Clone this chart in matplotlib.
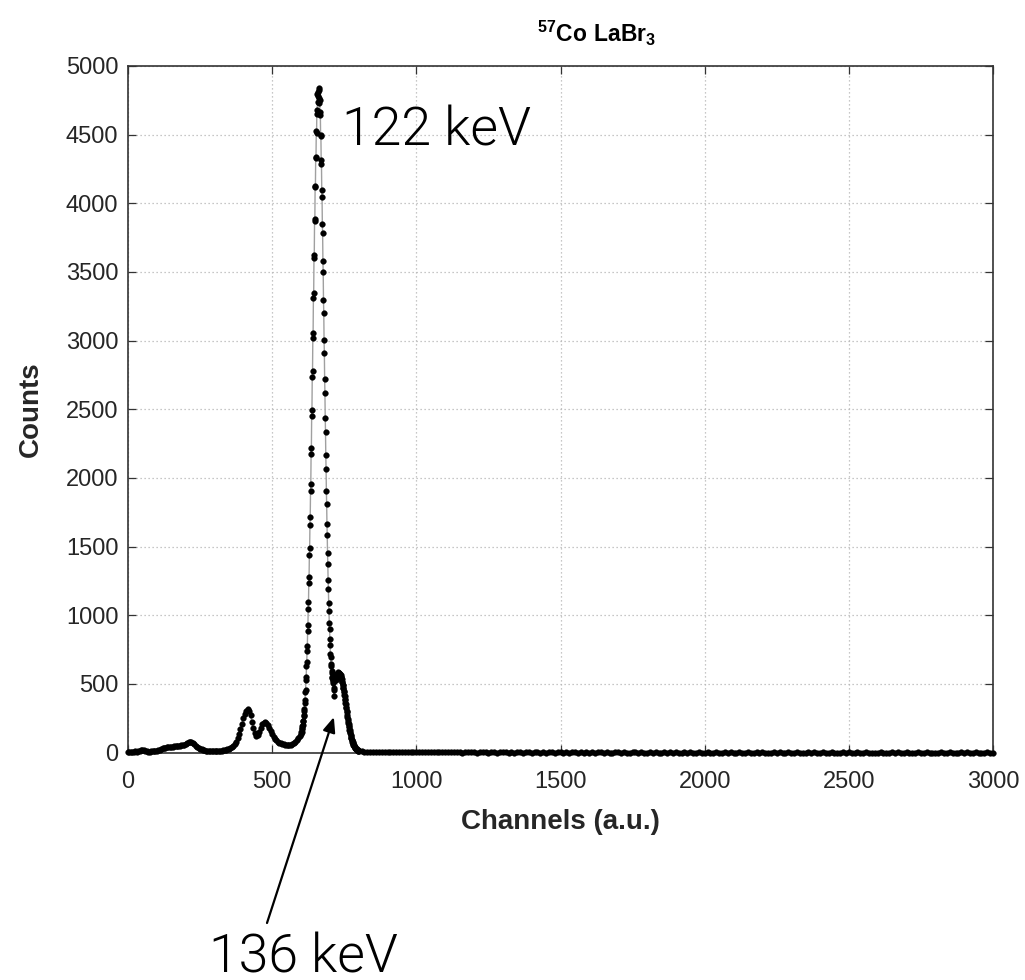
import os
import numpy as np
import matplotlib
matplotlib.use("Agg")
import matplotlib.pyplot as plt
from matplotlib import font_manager as fm

# ---------------------------------------------------------------------------
# 57Co spectrum measured with a LaBr3 detector
# ---------------------------------------------------------------------------
# channels 0..595, step 5
low_counts = [
    5, 6, 4, 7, 6, 8, 7, 10, 14, 18,
    21, 17, 12, 8, 6, 7, 9, 10, 11, 12,
    14, 17, 21, 26, 30, 33, 36, 38, 40, 41,
    42, 43, 44, 46, 47, 49, 50, 52, 54, 58,
    63, 69, 75, 78, 76, 70, 60, 50, 41, 33,
    27, 22, 19, 16, 14, 13, 12, 12, 12, 11,
    12, 12, 12, 12, 13, 14, 15, 17, 19, 22,
    26, 32, 40, 50, 62, 80, 105, 135, 170, 210,
    248, 280, 305, 318, 305, 272, 222, 178, 140, 122,
    128, 150, 180, 205, 218, 224, 218, 202, 178, 155,
    134, 115, 100, 88, 79, 72, 67, 63, 60, 58,
    56, 55, 56, 58, 62, 68, 77, 88, 103, 120,
]

# channels 600..799, step 1 (122 keV and 136 keV lines)
peak_counts = [
    138, 152, 150, 171, 175, 196, 199, 228, 233, 266,
    274, 305, 318, 362, 381, 437, 455, 526, 549, 631,
    660, 742, 778, 884, 925, 1047, 1094, 1231, 1281, 1437,
    1490, 1655, 1712, 1902, 1958, 2171, 2219, 2450, 2497, 2735,
    2781, 3018, 3058, 3311, 3346, 3598, 3621, 3870, 3883, 4121,
    4129, 4337, 4331, 4528, 4509, 4681, 4652, 4793, 4741, 4812,
    4784, 4842, 4767, 4826, 4730, 4756, 4641, 4662, 4497, 4491,
    4318, 4286, 4098, 4047, 3851, 3782, 3580, 3499, 3294, 3202,
    3001, 2911, 2722, 2617, 2436, 2333, 2164, 2063, 1905, 1811,
    1667, 1581, 1451, 1374, 1257, 1191, 1090, 1033, 946, 901,
    828, 781, 720, 695, 645, 627, 590, 579, 551, 546,
    524, 528, 505, 455, 410, 470, 520, 545, 531, 560,
    548, 556, 531, 562, 545, 571, 556, 578, 564, 583,
    569, 580, 570, 579, 566, 574, 558, 566, 547, 552,
    533, 536, 514, 516, 493, 492, 470, 467, 445, 440,
    418, 411, 390, 382, 361, 353, 331, 323, 302, 294,
    273, 261, 241, 233, 215, 207, 190, 183, 167, 161,
    146, 140, 126, 121, 109, 104, 93, 89, 80, 75,
    67, 64, 57, 54, 47, 45, 40, 38, 33, 31,
    28, 26, 24, 22, 20, 18, 16, 15, 13, 12,
]

# channels 800..3000, step 10
tail_counts = [
    11, 8, 6, 5, 4, 4, 3, 3, 3, 2,
    3, 2, 2, 3, 2, 1, 2, 2, 1, 2,
    1, 2, 1, 1, 2, 1, 1, 2, 1, 1,
    1, 1, 2, 1, 1, 1, 0, 1, 1, 2,
    1, 0, 1, 1, 1, 0, 1, 1, 0, 1,
    1, 1, 0, 1, 0, 1, 1, 0, 1, 1,
    0, 1, 1, 0, 1, 0, 1, 1, 0, 1,
    1, 0, 1, 0, 1, 1, 0, 1, 0, 1,
    0, 1, 0, 1, 1, 0, 1, 0, 0, 1,
    1, 0, 1, 0, 0, 1, 1, 0, 1, 0,
    0, 1, 0, 1, 0, 0, 1, 0, 1, 0,
    1, 0, 0, 1, 0, 1, 0, 0, 1, 0,
    0, 1, 0, 0, 1, 0, 0, 1, 0, 1,
    0, 0, 1, 0, 0, 1, 0, 0, 1, 0,
    1, 0, 0, 0, 1, 0, 1, 0, 0, 1,
    0, 0, 1, 0, 0, 0, 1, 0, 1, 0,
    0, 1, 0, 0, 1, 0, 0, 0, 1, 0,
    1, 0, 0, 1, 0, 0, 1, 0, 0, 0,
    0, 1, 0, 0, 0, 1, 0, 1, 0, 0,
    1, 0, 0, 0, 1, 0, 0, 1, 0, 0,
    0, 0, 1, 0, 0, 1, 0, 0, 0, 1,
    0, 1, 0, 0, 1, 0, 0, 0, 1, 0,
    0,
]

x_ticks = [0, 500, 1000, 1500, 2000, 2500, 3000]
y_ticks = [0, 500, 1000, 1500, 2000, 2500, 3000, 3500, 4000, 4500, 5000]

channels = np.concatenate([
    5 * np.arange(len(low_counts)),
    600 + np.arange(len(peak_counts)),
    800 + 10 * np.arange(len(tail_counts)),
])
counts = np.array(low_counts + peak_counts + tail_counts, dtype=float)

# ---------------------------------------------------------------------------
plt.rcParams["font.family"] = ["Liberation Sans", "DejaVu Sans"]
plt.rcParams["mathtext.fontset"] = "custom"
plt.rcParams["mathtext.rm"] = "Liberation Sans"
plt.rcParams["mathtext.bf"] = "Liberation Sans:bold"

INK = "#262626"


def light_font():
    for fam in ("Roboto", "Inter", "Open Sans", "Lato", "Noto Sans"):
        for f in fm.fontManager.ttflist:
            base = os.path.basename(f.fname).lower()
            if f.name == fam and "light" in base and "italic" not in base \
                    and "extra" not in base and "condensed" not in base:
                return fm.FontProperties(fname=f.fname)
    return fm.FontProperties(family="Liberation Sans")


W, H = 1025, 980
fig = plt.figure(figsize=(W / 100, H / 100), dpi=100)
ax = fig.add_axes([128 / W, 1 - 752.5 / H, 865 / W, 686.5 / H])

ax.plot(channels, counts, color="#a0a0a0", lw=1.0, zorder=2)
ax.plot(channels, counts, ls="none", marker="o", ms=4.1, mfc="black",
        mec="black", mew=0.3, zorder=3, clip_on=False)

ax.set_xlim(0, 3000)
ax.set_ylim(0, 5000)
ax.set_xticks(x_ticks)
ax.set_yticks(y_ticks)
ax.set_xticklabels([str(v) for v in x_ticks])
ax.set_yticklabels([str(v) for v in y_ticks])

ax.grid(True, color="#b5b5b5", linestyle=(0, (1, 2.2)), linewidth=0.9)
ax.set_axisbelow(True)
for s in ax.spines.values():
    s.set_color("#333333")
    s.set_linewidth(1.2)
ax.tick_params(direction="in", length=6, width=0.9, color="#333333",
               labelsize=17, labelcolor=INK, top=True, right=True)
ax.tick_params(axis="x", pad=13)
ax.tick_params(axis="y", pad=7)

fig.text(560.5 / W, 1 - 829 / H, "Channels (a.u.)", ha="center",
         va="baseline", fontsize=20, fontweight="bold", color=INK)
fig.text(31 / W, 1 - 409 / H, "Counts", ha="center", va="center",
         rotation=90, fontsize=20, fontweight="bold", color=INK)
fig.text(537 / W, 1 - 42 / H,
         r"$^{\mathbf{57}}\mathbf{Co\ LaBr}_{\mathbf{3}}$",
         ha="left", va="baseline", fontsize=16.5, color="black")

lf = light_font()
lf.set_size(38.5)
fig.text(342 / W, 1 - 145 / H, "122 keV", ha="left", va="baseline",
         fontproperties=lf, color="black")
fig.text(209 / W, 1 - 972 / H, "136 keV", ha="left", va="baseline",
         fontproperties=lf, color="black")

ax.annotate("", xy=(714, 258), xycoords="data",
            xytext=(267 / W, 1 - 923 / H), textcoords="figure fraction",
            arrowprops=dict(arrowstyle="-|>,head_length=0.6,head_width=0.25",
                            color="black", lw=1.6, mutation_scale=15,
                            shrinkA=0, shrinkB=0),
            annotation_clip=False)

fig.savefig("out.png", dpi=100)
